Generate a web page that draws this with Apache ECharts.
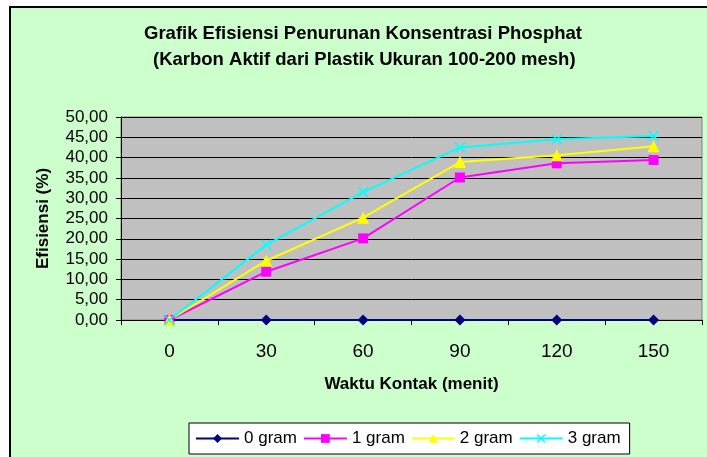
<!DOCTYPE html>
<html>
<head>
<meta charset="utf-8">
<script src="https://cdn.jsdelivr.net/npm/echarts@6/dist/echarts.min.js"></script>
<style>
html,body{margin:0;padding:0;background:#ffffff;}
#c{width:707px;height:457px;}
</style>
</head>
<body>
<div id="c"></div>
<script>
var categories = ['0', '30', '60', '90', '120', '150'];
var seriesNames = ['0 gram', '1 gram', '2 gram', '3 gram'];
var gram0 = [0, 0, 0, 0, 0, 0];
var gram1 = [0, 11.9, 20.1, 35.1, 38.6, 39.4];
var gram2 = [0, 14.6, 25.2, 38.9, 40.6, 42.8];
var gram3 = [0, 18.5, 31.5, 42.5, 44.5, 45.3];
var yMin = 0, yMax = 50, yStep = 5;
var titleLine1 = 'Grafik Efisiensi Penurunan Konsentrasi Phosphat';
var titleLine2 = '(Karbon Aktif dari Plastik Ukuran 100-200 mesh)';

var font = '"Liberation Sans", Arial, sans-serif';
var crossPath = 'path://M0,1L1,0L5,4L9,0L10,1L6,5L10,9L9,10L5,6L1,10L0,9L4,5Z';

function mk(name, data, color, symbol, size) {
  return {
    name: name, type: 'line', data: data,
    symbol: symbol, symbolSize: size,
    showSymbol: true,
    lineStyle: {color: color, width: 2},
    itemStyle: {color: color},
    emphasis: {disabled: true},
    animation: false
  };
}
var titleStyle = {fontFamily: font, fontSize: 18.5, fontWeight: 'bold', color: '#000', lineHeight: 26};

var chart = echarts.init(document.getElementById('c'), null, {renderer: 'canvas'});
chart.setOption({
  backgroundColor: '#ffffff',
  animation: false,
  textStyle: {fontFamily: font},
  graphic: [{
    type: 'rect', z: -10, silent: true,
    shape: {x: 10, y: 7, width: 720, height: 470},
    style: {fill: '#CCFFCC', stroke: '#000000', lineWidth: 2}
  }],
  title: [
    {text: titleLine1, left: 139, top: 16, padding: 5, textStyle: titleStyle},
    {text: titleLine2, left: 148, top: 42, padding: 5, textStyle: titleStyle}
  ],
  legend: {
    data: seriesNames,
    left: 189, top: 423,
    padding: [7, 9, 7, 6],
    itemGap: 6, itemWidth: 43, itemHeight: 11,
    backgroundColor: '#ffffff', borderColor: '#000000', borderWidth: 1,
    textStyle: {fontFamily: font, fontSize: 17, color: '#000'}
  },
  grid: {
    left: 121, right: 5, top: 117, bottom: 137,
    show: true, backgroundColor: '#C0C0C0', borderColor: '#808080', borderWidth: 1,
    containLabel: false
  },
  xAxis: {
    type: 'category', data: categories, boundaryGap: true,
    name: 'Waktu Kontak (menit)', nameLocation: 'middle', nameGap: 56,
    nameTextStyle: {fontFamily: font, fontSize: 17, fontWeight: 'bold', color: '#000'},
    axisLine: {show: true, lineStyle: {color: '#000', width: 1}},
    axisTick: {show: true, alignWithLabel: false, length: 5, lineStyle: {color: '#000'}},
    axisLabel: {fontFamily: font, fontSize: 19, color: '#000', margin: 22},
    splitLine: {show: false}
  },
  yAxis: {
    type: 'value', min: yMin, max: yMax, interval: yStep,
    name: 'Efisiensi (%)', nameLocation: 'middle', nameGap: 69, nameRotate: 90,
    nameTextStyle: {fontFamily: font, fontSize: 17, fontWeight: 'bold', color: '#000'},
    axisLine: {show: true, lineStyle: {color: '#000', width: 1}},
    axisTick: {show: true, length: 5, lineStyle: {color: '#000'}},
    axisLabel: {fontFamily: font, fontSize: 17, color: '#000', margin: 13,
      formatter: function (v) { return v.toFixed(2).replace('.', ','); }},
    splitLine: {show: true, lineStyle: {color: '#000', width: 1}}
  },
  series: [
    mk(seriesNames[0], gram0, '#000080', 'diamond', 11),
    mk(seriesNames[1], gram1, '#FF00FF', 'rect', 10),
    mk(seriesNames[2], gram2, '#FFFF00', 'triangle', 12),
    mk(seriesNames[3], gram3, '#00FFFF', crossPath, 11)
  ]
});
</script>
</body>
</html>
